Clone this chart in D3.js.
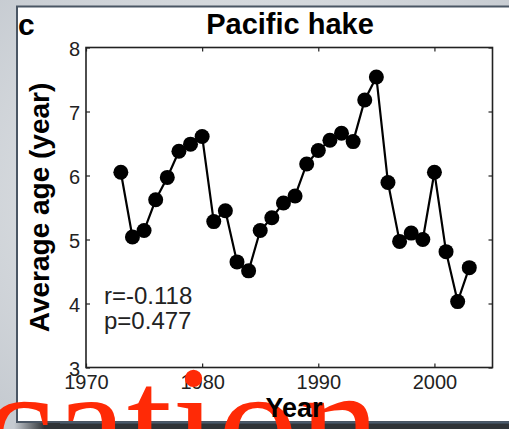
<!DOCTYPE html>
<html>
<head>
<meta charset="utf-8">
<script src="https://cdn.jsdelivr.net/npm/d3@7"></script>
<style>
  html, body { margin: 0; padding: 0; background: #d9dde1; }
  svg { display: block; }
</style>
</head>
<body>
<svg id="chart" width="509" height="429"></svg>
<script>
// Pacific hake: average age of the stock by year
const years = [1973, 1974, 1975, 1976, 1977, 1978, 1979, 1980, 1981, 1982,
               1983, 1984, 1985, 1986, 1987, 1988, 1989, 1990, 1991, 1992,
               1993, 1994, 1995, 1996, 1997, 1998, 1999, 2000, 2001, 2002, 2003];
const avgAge = [6.05, 5.04, 5.14, 5.62, 5.97, 6.38, 6.49, 6.61, 5.28, 5.45,
                4.65, 4.51, 5.14, 5.34, 5.57, 5.68, 6.18, 6.39, 6.55, 6.66,
                6.53, 7.18, 7.54, 5.89, 4.97, 5.10, 5.00, 6.05, 4.81, 4.03, 4.56];
const xTicks = [1970, 1980, 1990, 2000];
const yTicks = [3, 4, 5, 6, 7, 8];
const statLines = ["r=-0.118", "p=0.477"];

const svg = d3.select("#chart");
const W = 509, H = 429;

// slide backdrop
const defs = svg.append("defs");
const bg = defs.append("radialGradient").attr("id", "bg")
  .attr("cx", "50%").attr("cy", "45%").attr("r", "70%");
bg.append("stop").attr("offset", "0%").attr("stop-color", "#eef0f1");
bg.append("stop").attr("offset", "100%").attr("stop-color", "#c6cbd1");
svg.append("rect").attr("width", W).attr("height", H).attr("fill", "url(#bg)");

const band = defs.append("linearGradient").attr("id", "band")
  .attr("x1", "0").attr("x2", "1").attr("y1", "0").attr("y2", "0");
band.append("stop").attr("offset", "0%").attr("stop-color", "#2f3337").attr("stop-opacity", 0);
band.append("stop").attr("offset", "6%").attr("stop-color", "#2f3337").attr("stop-opacity", 1);
band.append("stop").attr("offset", "100%").attr("stop-color", "#2f3337").attr("stop-opacity", 1);

// figure panel
svg.append("rect").attr("x", 17).attr("y", 6.5).attr("width", W).attr("height", 415.5)
  .attr("fill", "#ffffff").attr("stroke", "#4a5664").attr("stroke-width", 2);
svg.append("rect").attr("x", 14).attr("y", 423).attr("width", W).attr("height", 8)
  .attr("fill", "url(#band)");
svg.append("line").attr("x1", 60).attr("x2", W).attr("y1", 423).attr("y2", 423)
  .attr("stroke", "#4d6074").attr("stroke-width", 1);

// plot area
const m = { left: 86, right: 492.5, top: 47.5, bottom: 367.5 };
const x = d3.scaleLinear().domain([1970, 2005]).range([m.left, m.right]);
const y = d3.scaleLinear().domain([3, 8]).range([m.bottom, m.top]);

const g = svg.append("g");
const font = "'Liberation Sans', Arial, Helvetica, sans-serif";
const serif = "'Liberation Serif', 'Times New Roman', Tinos, 'Noto Serif', 'DejaVu Serif', serif";
const tickLen = 4;

function styleAxis(sel) {
  sel.select(".domain").remove();
  sel.selectAll(".tick line").attr("stroke", "#222").attr("stroke-width", 1.2);
  sel.selectAll(".tick text").attr("fill", "#222")
    .style("font-family", font).style("font-size", "20px");
}

g.append("g").attr("transform", `translate(0,${m.bottom})`)
  .call(d3.axisBottom(x).tickValues(xTicks).tickFormat(d3.format("d"))
    .tickSizeInner(-tickLen).tickSizeOuter(0).tickPadding(7))
  .call(styleAxis)
  .call(s => s.selectAll(".tick text").attr("dy", "0.71em"));
g.append("g").attr("transform", `translate(0,${m.top})`)
  .call(d3.axisTop(x).tickValues(xTicks).tickFormat("")
    .tickSizeInner(-tickLen).tickSizeOuter(0))
  .call(styleAxis);
g.append("g").attr("transform", `translate(${m.left},0)`)
  .call(d3.axisLeft(y).tickValues(yTicks).tickFormat(d3.format("d"))
    .tickSizeInner(-tickLen).tickSizeOuter(0).tickPadding(6))
  .call(styleAxis)
  .call(s => s.selectAll(".tick text").attr("dy", "0.4em"));
g.append("g").attr("transform", `translate(${m.right},0)`)
  .call(d3.axisRight(y).tickValues(yTicks).tickFormat("")
    .tickSizeInner(-tickLen).tickSizeOuter(0))
  .call(styleAxis);

// frame
g.append("rect").attr("x", m.left).attr("y", m.top)
  .attr("width", m.right - m.left).attr("height", m.bottom - m.top)
  .attr("fill", "none").attr("stroke", "#222").attr("stroke-width", 1.6);

// series
const pts = years.map((yr, i) => ({ yr, v: avgAge[i] }));
g.append("path").datum(pts)
  .attr("fill", "none").attr("stroke", "#000").attr("stroke-width", 2.2)
  .attr("d", d3.line().x(d => x(d.yr)).y(d => y(d.v)));
g.selectAll("circle.pt").data(pts).join("circle").attr("class", "pt")
  .attr("cx", d => x(d.yr)).attr("cy", d => y(d.v)).attr("r", 7.5)
  .attr("fill", "#000");

// correlation statistics
g.selectAll("text.stat").data(statLines).join("text").attr("class", "stat")
  .attr("x", 104).attr("y", (d, i) => 304 + i * 25)
  .attr("fill", "#222").style("font-family", font).style("font-size", "24px")
  .text(d => d);

// titles
svg.append("text").attr("x", 18).attr("y", 35)
  .style("font-family", font).style("font-size", "30px").style("font-weight", "bold")
  .attr("fill", "#000").text("c");
svg.append("text").attr("x", 290).attr("y", 34)
  .attr("text-anchor", "middle")
  .style("font-family", font).style("font-size", "29px").style("font-weight", "bold")
  .attr("fill", "#000").text("Pacific hake");
svg.append("text")
  .attr("transform", `translate(49,${(m.top + m.bottom) / 2}) rotate(-90)`)
  .attr("text-anchor", "middle")
  .style("font-family", font).style("font-size", "28px").style("font-weight", "bold")
  .attr("fill", "#000").text("Average age (year)");

// slide heading running across the bottom
svg.append("text").attr("x", -18).attr("y", 478)
  .style("font-family", serif)
  .style("font-size", "163px").attr("fill", "#ff2a06").text("cation");

svg.append("text").attr("x", 294).attr("y", 417).attr("text-anchor", "middle")
  .style("font-family", font).style("font-size", "27px").style("font-weight", "bold")
  .attr("fill", "#000").text("Year");
</script>
</body>
</html>
